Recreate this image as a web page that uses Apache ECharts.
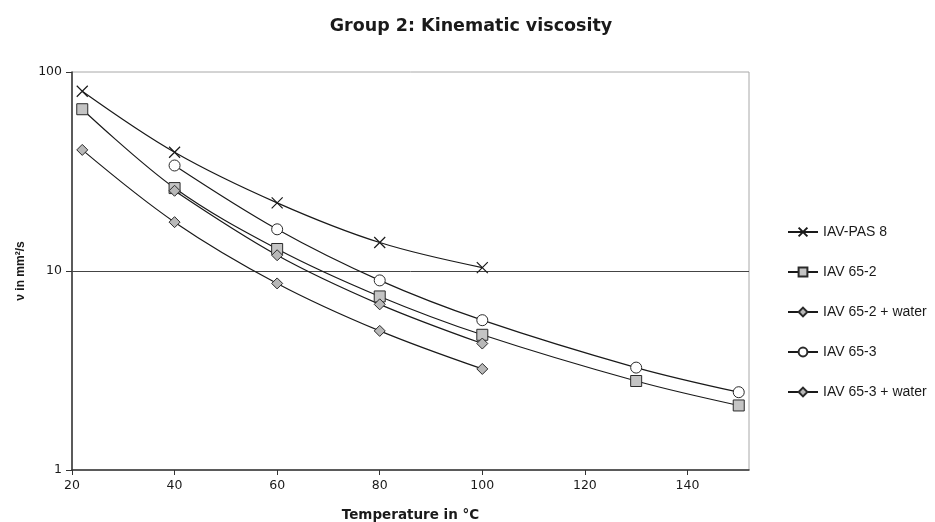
<!DOCTYPE html>
<html>
<head>
<meta charset="utf-8">
<script src="https://cdn.jsdelivr.net/npm/echarts@6/dist/echarts.min.js"></script>
<style>
  html, body { margin: 0; padding: 0; background: #fff; overflow: hidden; }
  #chart { width: 935px; height: 522px; }
</style>
</head>
<body>
<div id="chart"></div>
<script>
// Kinematic viscosity (mm²/s) versus temperature (°C), log scale
const xTicks = [20, 40, 60, 80, 100, 120, 140];

const pas8Temp = [22, 40, 60, 80, 100];
const pas8Visc = [80, 39.5, 22.0, 13.9, 10.4];

const iav652Temp = [22, 40, 60, 80, 100, 130, 150];
const iav652Visc = [65, 26.1, 12.9, 7.45, 4.78, 2.80, 2.11];

const iav652WaterTemp = [40, 60, 80, 100];
const iav652WaterVisc = [25.3, 12.0, 6.8, 4.32];

const iav653Temp = [40, 60, 80, 100, 130, 150];
const iav653Visc = [33.9, 16.2, 8.97, 5.66, 3.27, 2.46];

const iav653WaterTemp = [22, 40, 60, 80, 100];
const iav653WaterVisc = [40.6, 17.6, 8.66, 5.0, 3.22];

const pair = (xs, ys) => xs.map((x, i) => [x, ys[i]]);

const lineColor = '#1a1a1a';
const crossPath = 'path://M0,0L10,10M10,0L0,10';
const wideFont = 'DejaVu Sans, Verdana, sans-serif';
const arialFont = 'Liberation Sans, Arial, sans-serif';

function lineSeries(name, xs, ys, symbol, size, fill, extra) {
  return Object.assign({
    name: name,
    type: 'line',
    data: pair(xs, ys),
    smooth: 0.35,
    symbol: symbol,
    symbolSize: size,
    showAllSymbol: true,
    lineStyle: { color: lineColor, width: 1.2 },
    itemStyle: { color: fill, borderColor: '#2a2a2a', borderWidth: 1 },
    emphasis: { disabled: true },
    z: 3
  }, extra || {});
}

const chart = echarts.init(document.getElementById('chart'), null, { renderer: 'canvas' });

chart.setOption({
  backgroundColor: '#fff',
  animation: false,
  textStyle: { fontFamily: arialFont },
  title: {
    text: 'Group 2: Kinematic viscosity',
    left: 466,
    top: 12,
    textAlign: 'center',
    textStyle: { fontSize: 17.5, fontWeight: 'bold', color: '#1a1a1a', fontFamily: wideFont }
  },
  grid: {
    left: 72, top: 72, right: 186, bottom: 52,
    show: true, borderColor: '#a8a8a8', borderWidth: 1,
    containLabel: false,
    outerBoundsMode: 'none'
  },
  legend: {
    orient: 'vertical',
    left: 782,
    top: 220,
    itemWidth: 30,
    itemHeight: 11,
    itemGap: 26,
    textStyle: { fontSize: 14, color: '#1a1a1a', fontFamily: arialFont },
    data: ['IAV-PAS 8', 'IAV 65-2', 'IAV 65-2 + water', 'IAV 65-3', 'IAV 65-3 + water']
  },
  xAxis: {
    type: 'value',
    min: 20,
    max: 152,
    name: 'Temperature in °C',
    nameLocation: 'middle',
    nameGap: 38,
    nameTextStyle: { fontSize: 13.5, fontWeight: 'bold', color: '#1a1a1a', fontFamily: wideFont },
    axisLine: { show: true, onZero: false, lineStyle: { color: '#333', width: 1.5 } },
    axisTick: { show: true, length: 5, lineStyle: { color: '#333' }, customValues: xTicks },
    axisLabel: { fontSize: 12.5, color: '#1a1a1a', margin: 9, fontFamily: wideFont, customValues: xTicks },
    splitLine: { show: false }
  },
  yAxis: {
    type: 'log',
    logBase: 10,
    min: 1,
    max: 100,
    name: 'ν in mm²/s',
    nameLocation: 'middle',
    nameGap: 45,
    nameRotate: 90,
    nameTextStyle: { fontSize: 12, fontWeight: 'bold', color: '#1a1a1a', fontFamily: arialFont },
    axisLine: { show: true, lineStyle: { color: '#333', width: 1.5 } },
    axisTick: { show: true, length: 6, lineStyle: { color: '#333' } },
    axisLabel: { fontSize: 12.5, color: '#1a1a1a', margin: 10, fontFamily: wideFont },
    splitLine: { show: false }
  },
  series: [
    lineSeries('IAV-PAS 8', pas8Temp, pas8Visc, crossPath, 11, 'transparent', {
      itemStyle: { color: 'transparent', borderColor: '#1a1a1a', borderWidth: 1.2 },
      markLine: {
        silent: true,
        symbol: 'none',
        label: { show: false },
        lineStyle: { color: '#444', width: 1, type: 'solid' },
        data: [{ yAxis: 10 }],
        z: 1
      }
    }),
    lineSeries('IAV 65-2', iav652Temp, iav652Visc, 'rect', 11, '#c4c4c4'),
    lineSeries('IAV 65-2 + water', iav652WaterTemp, iav652WaterVisc, 'diamond', 11, '#b8b8b8'),
    lineSeries('IAV 65-3', iav653Temp, iav653Visc, 'circle', 11, '#ffffff'),
    lineSeries('IAV 65-3 + water', iav653WaterTemp, iav653WaterVisc, 'diamond', 11, '#b8b8b8')
  ]
});
</script>
</body>
</html>
